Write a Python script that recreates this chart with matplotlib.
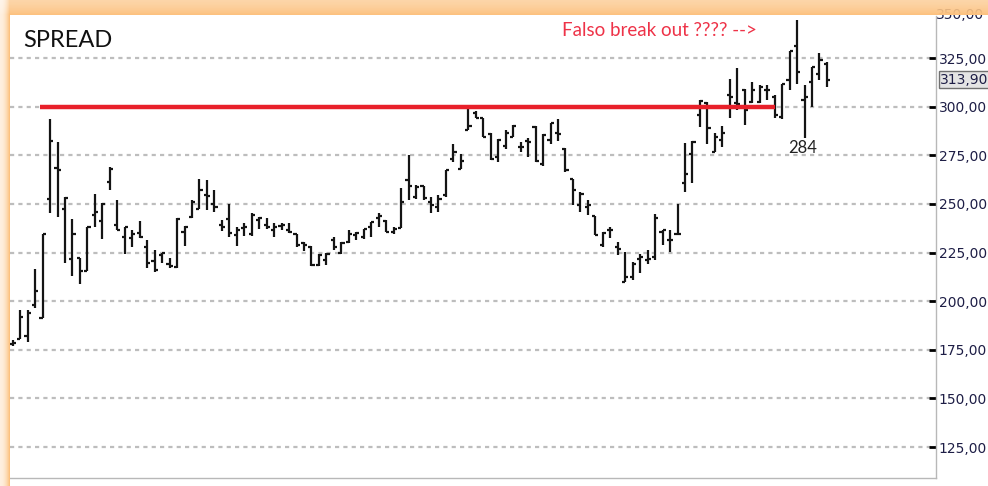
import numpy as np
import matplotlib.pyplot as plt
from matplotlib.ticker import FuncFormatter
import matplotlib.transforms as mtransforms

plt.rcParams['lines.scale_dashes'] = False

# OHLC bars of the spread
opens = [178.1, 180.6, 182.3, 198.1, 191.3, 252.6, 268.5, 247.6, 221.6, 222.4,
         215.6, 244.2, 241.3, 261.2, 239.1, 233.2, 232.3, 234.9, 228.1, 220.9,
         223.8, 219.2, 217.5, 235.7, 243.4, 247.6, 254.4, 250.2, 239.1, 242.5,
         234.0, 237.4, 234.5, 241.7, 239.1, 236.6, 238.6, 236.6, 234.4, 229.8,
         228.1, 218.7, 221.3, 231.5, 224.7, 230.6, 234.0, 233.2, 237.9, 242.9,
         241.3, 235.7, 237.8, 262.1, 253.6, 259.0, 251.0, 248.5, 254.4, 273.1,
         267.7, 288.1, 296.9, 294.0, 285.9, 274.0, 279.9, 284.2, 279.1, 282.5,
         289.6, 270.6, 282.8, 286.7, 278.2, 262.9, 249.3, 248.5, 243.7, 228.9,
         236.4, 227.8, 209.8, 212.4, 221.8, 221.0, 222.7, 235.6, 231.3, 234.7,
         260.5, 275.9, 295.7, 301.7, 276.8, 282.8, 306.0, 301.7, 308.6, 302.5,
         302.5, 308.4, 305.1, 294.9, 313.5, 331.3, 303.4, 312.7, 316.6, 322.0]
highs = [180.0, 195.6, 195.6, 216.3, 234.7, 293.5, 281.6, 253.6, 242.2, 222.4,
         238.3, 255.3, 250.5, 269.2, 252.2, 238.3, 236.6, 241.2, 231.5, 226.4,
         225.0, 222.1, 242.9, 238.6, 252.2, 262.6, 262.1, 257.0, 241.7, 249.7,
         238.3, 240.0, 245.1, 243.4, 242.9, 240.3, 240.0, 240.3, 234.5, 230.6,
         228.4, 224.3, 224.7, 233.2, 230.6, 236.6, 235.7, 236.9, 240.8, 245.4,
         241.7, 238.3, 258.2, 275.2, 259.5, 259.2, 253.6, 254.4, 267.2, 280.8,
         275.7, 298.6, 297.8, 294.4, 286.2, 283.3, 287.9, 290.5, 281.6, 283.8,
         290.1, 285.9, 291.8, 293.5, 278.7, 262.9, 256.1, 251.9, 243.7, 235.7,
         238.1, 230.4, 225.3, 220.1, 224.4, 226.1, 245.0, 236.4, 236.4, 249.8,
         281.4, 282.5, 303.4, 302.6, 286.3, 290.0, 314.1, 319.8, 308.9, 312.7,
         311.0, 311.0, 305.9, 311.8, 328.4, 344.3, 311.0, 320.6, 327.4, 322.8]
lows = [177.0, 180.6, 178.9, 196.4, 191.3, 245.1, 243.4, 219.6, 212.8, 208.8,
        215.6, 238.3, 232.0, 257.0, 236.6, 224.1, 227.7, 232.3, 217.0, 214.8,
        219.6, 217.0, 217.0, 228.4, 242.9, 247.6, 246.8, 245.9, 236.1, 233.2,
        228.4, 233.7, 233.7, 236.9, 236.9, 233.2, 236.6, 235.2, 228.1, 226.0,
        217.9, 218.2, 218.7, 226.4, 224.3, 229.8, 231.5, 231.8, 233.2, 237.9,
        235.4, 234.5, 237.4, 251.9, 252.7, 252.2, 245.1, 245.9, 253.6, 271.4,
        267.7, 288.1, 294.4, 284.2, 272.8, 271.4, 278.2, 284.2, 276.5, 274.3,
        271.8, 269.7, 280.8, 282.5, 266.3, 249.3, 245.9, 244.2, 234.0, 228.1,
        232.6, 223.5, 209.8, 211.0, 214.4, 219.2, 221.0, 228.7, 225.3, 233.8,
        256.2, 260.8, 289.7, 280.8, 276.8, 279.4, 294.0, 298.3, 290.5, 301.7,
        301.7, 303.4, 294.1, 293.6, 308.8, 311.8, 284.0, 300.0, 313.5, 310.1]
closes = [178.5, 191.7, 193.9, 205.0, 234.4, 282.5, 267.2, 253.2, 234.5, 215.6,
          237.9, 245.9, 250.2, 267.7, 236.6, 238.3, 234.5, 233.2, 219.6, 216.2,
          224.7, 217.9, 242.5, 238.3, 251.0, 257.0, 253.9, 248.5, 238.3, 235.2,
          236.6, 238.3, 244.2, 243.0, 238.3, 238.3, 239.1, 235.7, 228.9, 228.9,
          218.7, 223.8, 224.1, 228.1, 230.1, 234.5, 234.9, 236.9, 240.5, 243.7,
          235.7, 236.9, 251.0, 259.0, 258.7, 253.2, 249.3, 252.7, 267.2, 276.5,
          271.9, 290.1, 294.4, 284.5, 273.1, 282.8, 286.7, 290.1, 279.1, 281.6,
          272.3, 285.4, 291.5, 285.9, 267.5, 257.0, 255.3, 249.3, 234.0, 235.2,
          236.4, 227.0, 212.4, 219.2, 222.7, 221.8, 243.0, 236.4, 231.3, 234.7,
          265.6, 282.0, 303.1, 288.8, 284.5, 286.6, 305.2, 301.4, 298.3, 308.4,
          310.1, 308.4, 295.8, 311.5, 328.4, 317.7, 305.1, 320.3, 324.0, 313.9]

yticks = [125, 150, 175, 200, 225, 250, 275, 300, 325]
level = 300          # resistance drawn in red
level_from, level_to = 3.65, 102.1
low_bar = 106        # bar with the 284 low
last_price = closes[-1]

W, H = 988, 486
fig = plt.figure(figsize=(W / 100, H / 100), dpi=100)
ax = fig.add_axes([10 / W, 1 - 478 / H, 926 / W, 462 / H])

idx = np.arange(len(closes))
bar_col = '#141414'
ax.vlines(idx, lows, highs, color=bar_col, lw=1.6, zorder=3)
ax.hlines(opens, idx - 0.42, idx, color=bar_col, lw=1.6, zorder=3)
ax.hlines(closes, idx, idx + 0.42, color=bar_col, lw=1.6, zorder=3)

for y in yticks:
    ax.axhline(y, color='#bdbdbd', lw=1.6, ls=(0, (3, 3)), zorder=1)

ax.plot([level_from, level_to], [level, level], color='#e8202a', lw=3.2,
        solid_capstyle='butt', zorder=4)

ax.set_xlim(-0.36, 123.6)
ax.set_ylim(109.1, 346.6)

ax.yaxis.tick_right()
ax.set_yticks(yticks)
ax.yaxis.set_major_formatter(FuncFormatter(lambda v, p: f"{v:.2f}".replace('.', ',')))
ax.tick_params(axis='y', direction='in', length=5, width=2, color='black',
               labelsize=10, labelcolor='#1e1e46', pad=2)
ax.tick_params(axis='x', bottom=False, labelbottom=False)
for s in ['left', 'top']:
    ax.spines[s].set_visible(False)
for s in ['right', 'bottom']:
    ax.spines[s].set_color('#b8b8b8')
    ax.spines[s].set_linewidth(1)

trans = mtransforms.blended_transform_factory(ax.transAxes, ax.transData)
ax.annotate(f"{last_price:.2f}".replace('.', ','), xy=(1, last_price),
            xycoords=trans, xytext=(3, 0), textcoords='offset points',
            ha='left', va='center', fontsize=10, color='#1e1e46',
            bbox=dict(boxstyle='square,pad=0.12', fc='#e4e4e4', ec='#707070', lw=1),
            annotation_clip=False)
# top label, half hidden under the window frame
ax.text(1, 347.3, '350,00', transform=trans, ha='left', va='center',
        fontsize=10, color='#1e1e46', clip_on=False)

ax.text(0.014, 0.948, 'SPREAD', transform=ax.transAxes, fontsize=17,
        family=['Lato', 'DejaVu Sans'], color='#111111', va='center', ha='left')
ax.text(99.6, 338.9, 'Falso break out ???? -->', fontsize=13.5,
        family=['Lato', 'DejaVu Sans'], color='#ee3348', va='center', ha='right')
ax.annotate(f"{lows[low_bar]:.0f}", xy=(low_bar - 0.3, lows[low_bar]),
            xytext=(0, -1.5), textcoords='offset points', ha='center', va='top',
            fontsize=12, family=['Lato', 'DejaVu Sans'], color='#222222')

# orange window frame (top and left), fading outward
r = np.arange(H)[:, None].astype(float)
c = np.arange(W)[None, :].astype(float)
ta = np.where(r < 16, 0.8 + 0.2 * np.clip(r / 15, 0, 1) ** 2, 0.0)
la = np.where(c < 10, 0.25 + 0.75 * np.clip(c / 9, 0, 1) ** 2, 0.0)
alpha = np.where((r < 16) & (c < 10), ta * la,
                 np.where(r < 16, ta, np.where(c < 10, la, 0.0)))
alpha = np.broadcast_to(alpha, (H, W))
img = np.zeros((H, W, 4))
img[..., 0] = 0.99
img[..., 1] = 0.80 - 0.04 * np.clip(r / 15, 0, 1)
img[..., 2] = 0.58 - 0.08 * np.clip(r / 15, 0, 1)
img[..., 3] = alpha
ov = fig.add_axes([0, 0, 1, 1], zorder=10)
ov.imshow(img, extent=(0, W, H, 0), aspect='auto', interpolation='nearest')
ov.set_xlim(0, W)
ov.set_ylim(H, 0)
ov.axis('off')

fig.savefig('out.png', dpi=100)
